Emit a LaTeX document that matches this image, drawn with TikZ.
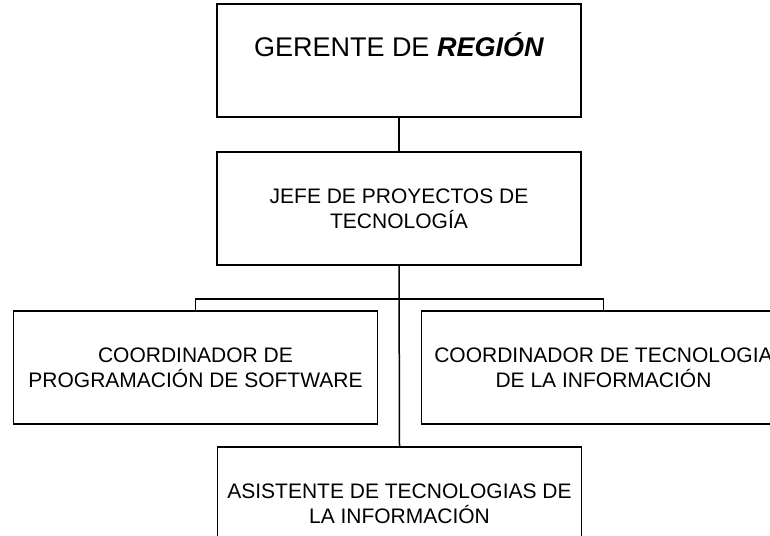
\documentclass[tikz,border=0pt]{standalone}
\usepackage{fontspec}
\setmainfont{Liberation Sans}
\tikzset{
  cargo/.style={draw,line width=1.5pt,minimum width=364pt,minimum height=113pt,
    inner sep=0pt,align=center,font=\fontsize{21}{25}\selectfont},
  linea/.style={line width=1.5pt}
}
\begin{document}
\begin{tikzpicture}[x=1pt,y=-1pt]
  \useasboundingbox
    (0,0)
    rectangle
    (770,535);
  \clip
    (0,0)
    rectangle
    (770,535);
  \node[cargo,font=\fontsize{27}{31}\selectfont] (gerente) at (399,60.5)
    {GERENTE DE \textbf{\textit{REGIÓN}}\\~};
  \node[cargo] (jefe) at (399,208.5)
    {JEFE DE PROYECTOS DE\\TECNOLOGÍA};
  \node[cargo] (coordprog) at (195.5,367.5)
    {COORDINADOR DE\\PROGRAMACIÓN DE SOFTWARE};
  \node[cargo] (coordtec) at (603.5,367.5)
    {COORDINADOR DE TECNOLOGIA\\DE LA INFORMACIÓN};
  \node[cargo] (asistente) at (399.5,503.5)
    {ASISTENTE DE TECNOLOGIAS DE\\LA INFORMACIÓN};
  \coordinate (bus) at (400,299);
  \draw[linea]
    (gerente)
    --
    (jefe);
  \draw[linea]
    (jefe.south)
    --
    (asistente.north);
  \draw[linea]
    (coordprog.north)
    --
    (coordprog.north |- bus)
    --
    (coordtec.north |- bus)
    --
    (coordtec.north);
\end{tikzpicture}
\end{document}
